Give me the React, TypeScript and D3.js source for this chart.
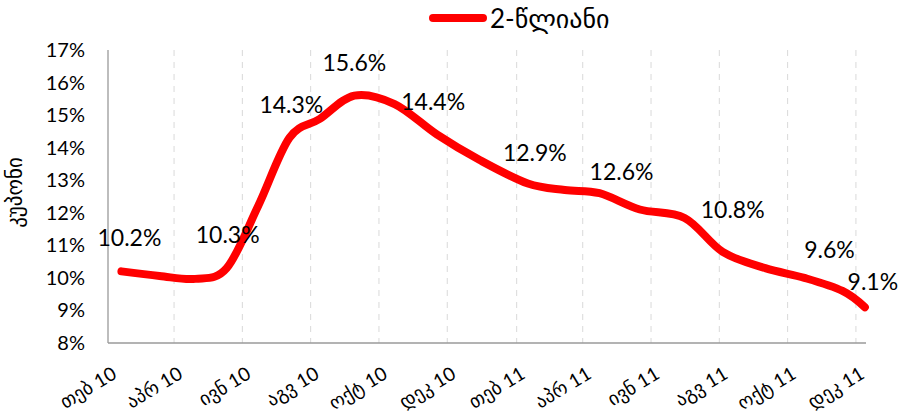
import React from 'react';
import * as d3 from 'd3';

// 2-year note auctions: date and coupon (%)
const auctionDates = [
  '2010-02-13', '2010-03-19', '2010-04-20', '2010-05-18', '2010-06-15', '2010-07-13',
  '2010-08-09', '2010-09-09', '2010-10-15', '2010-11-22', '2010-12-30', '2011-02-11',
  '2011-03-16', '2011-04-16', '2011-05-22', '2011-07-01', '2011-08-04', '2011-09-11',
  '2011-10-16', '2011-11-19', '2011-12-09',
];
const coupon = [
  10.2, 10.06, 9.97, 10.3, 12.2, 14.3,
  14.88, 15.6, 15.34, 14.4, 13.62, 12.9,
  12.7, 12.6, 12.1, 11.84, 10.8, 10.3,
  10.0, 9.6, 9.1,
];
// which points carry a value label
const labelledPoints = [0, 3, 5, 7, 9, 11, 13, 16, 19, 20];
const labelTexts = ['10.2%', '10.3%', '14.3%', '15.6%', '14.4%', '12.9%', '12.6%', '10.8%', '9.6%', '9.1%'];

const xTickLabels = [
  'თებ 10', 'აპრ 10', 'ივნ 10', 'აგვ 10', 'ოქტ 10', 'დეკ 10',
  'თებ 11', 'აპრ 11', 'ივნ 11', 'აგვ 11', 'ოქტ 11', 'დეკ 11',
];
const yTicks = [8, 9, 10, 11, 12, 13, 14, 15, 16, 17];
const seriesName = '2-წლიანი';
const yTitle = 'კუპონი';

// label nudges (px) relative to the default spot above each point
const labelNudge: [number, number][] = [
  [8, 0], [1, 0], [2, 0], [0, 0], [-4, 0], [7, 2], [22, 12], [10, -9], [-13, -8], [8, 8],
];

const W = 902, H = 418;
const left = 108, right = 866, top = 50, bottom = 343;
const font = "Lato, 'DejaVu Sans', sans-serif";

const App = () => {
  const parse = d3.timeParse('%Y-%m-%d');
  const dates = auctionDates.map(d => parse(d) as Date);
  const x = d3.scaleTime()
    .domain([new Date(2010, 1, 1), new Date(2011, 11, 10)])
    .range([left, right]);
  const y = d3.scaleLinear().domain([8, 17]).range([bottom, top]);
  const tickDates = d3.timeMonth.range(new Date(2010, 1, 1), new Date(2011, 11, 2), 2);

  const line = d3.line<number>()
    .x((_, i) => x(dates[i]))
    .y(v => y(v))
    .curve(d3.curveCardinal.tension(0));

  return (
    <svg width={W} height={H} style={{ position: 'absolute', left: 0, top: 0, background: '#fff' }}
      fontFamily={font}>
      {/* vertical dashed gridlines */}
      {tickDates.map((d, i) => i === 0 ? null : (
        <line key={'g' + i} x1={x(d)} x2={x(d)} y1={top} y2={bottom}
          stroke="#d9d9d9" strokeWidth={1} strokeDasharray="6 6" />
      ))}
      {/* axes */}
      <line x1={left} x2={left} y1={top} y2={bottom} stroke="#9a9a9a" strokeWidth={1.3} />
      <line x1={left} x2={right} y1={bottom} y2={bottom} stroke="#9a9a9a" strokeWidth={1.3} />

      {yTicks.map(t => (
        <text key={'y' + t} x={85} y={y(t)} dy="0.35em" textAnchor="end" fontSize={20} fill="#000">
          {t}%
        </text>
      ))}
      <text transform={`translate(${22},${(top + bottom) / 2 - 4}) rotate(-90)`} textAnchor="middle"
        fontSize={21} fill="#000">{yTitle}</text>

      {tickDates.map((d, i) => (
        <text key={'x' + i} transform={`translate(${x(d) + 3},${366}) rotate(-31)`}
          textAnchor="end" fontSize={19} fill="#000" dy="0.7em">{xTickLabels[i]}</text>
      ))}

      <path d={line(coupon) || ''} fill="none" stroke="#ff0000" strokeWidth={8}
        strokeLinecap="round" strokeLinejoin="round" />

      {labelledPoints.map((p, k) => (
        <text key={'l' + k} x={x(dates[p]) + labelNudge[k][0]} y={y(coupon[p]) - 33 + labelNudge[k][1]}
          dy="0.35em" textAnchor="middle" fontSize={23} fill="#000">{labelTexts[k]}</text>
      ))}

      {/* legend */}
      <line x1={433} x2={483} y1={18} y2={18} stroke="#ff0000" strokeWidth={8} strokeLinecap="round" />
      <text x={490} y={19} dy="0.35em" fontSize={26} fill="#000">{seriesName}</text>
    </svg>
  );
};

export default App;
